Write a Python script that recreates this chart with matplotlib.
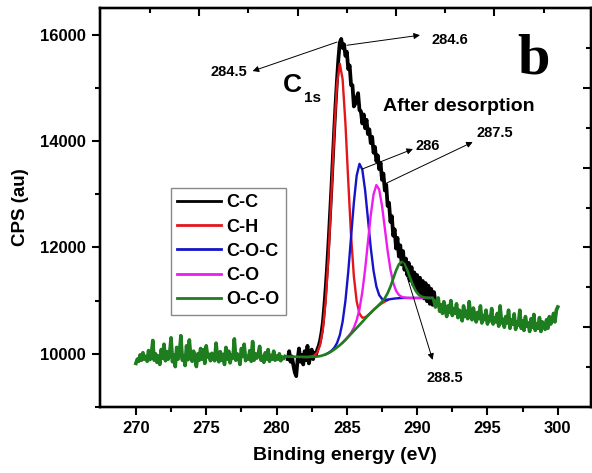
import numpy as np
import matplotlib
matplotlib.use('Agg')
import matplotlib.pyplot as plt

plt.rcParams['font.family'] = ['Liberation Sans', 'DejaVu Sans']
plt.rcParams['font.weight'] = 'bold'

# C-C raw spectrum, 280.8 .. 291.3 eV, step 0.1
cc_start = 280.8
cc_y = [9900, 10050, 9850, 9950, 9780, 9650, 9580, 9900, 10100, 9850,
        9980, 9800, 10050, 9880, 10150, 9820, 9950, 10080, 9900, 10020,
        9980, 10080, 10150, 10250, 10400, 10600, 10900, 11250, 11650, 12100,
        12600, 13100, 13650, 14200, 14700, 15150, 15550, 15850, 15920, 15750,
        15820, 15600, 15680, 15350, 15420, 15050, 15050, 14650, 14700, 14820,
        14900, 14580, 14560, 14330, 14500, 14240, 14400, 14130, 14220, 13960,
        14080, 13780, 13890, 13620, 13730, 13470, 13590, 13270, 13390, 13070,
        13180, 12780, 12840, 12480, 12590, 12220, 12340, 11980, 12180, 11830,
        12040, 11680, 11930, 11580, 11790, 11480, 11710, 11380, 11630, 11310,
        11530, 11230, 11480, 11180, 11430, 11110, 11370, 11040, 11330, 10990,
        11280, 10940, 11220, 10920, 11160, 10950]

# fitted components, step 0.2
ch_start = 281.9
ch_y = [9940, 9940, 9941, 9950, 9972, 10028, 10169, 10469, 11016, 11867,
        12976, 14148, 15071, 15452, 15161, 14330, 13249, 12224, 11456, 10985,
        10754, 10679, 10686, 10725, 10772, 10825, 10872, 10915, 10952, 10982,
        11008]

coc_start = 283.5
coc_y = [9990, 10018, 10056, 10111, 10201, 10351, 10604, 10998, 11542, 12193,
         12845, 13351, 13572, 13463, 13075, 12539, 11996, 11561, 11266, 11104,
         11033, 11013, 11019, 11028, 11036, 11042, 11046, 11049, 11050, 11050,
         11050, 11050, 11050, 11050, 11050, 11050, 11050, 11050, 11050]

co_start = 284.7
co_y = [10210, 10265, 10326, 10395, 10491, 10632, 10841, 11159, 11589, 12100,
        12605, 12999, 13172, 13089, 12785, 12364, 11937, 11584, 11334, 11186,
        11107, 11072, 11058, 11053, 11050, 11050, 11050, 11050, 11050, 11050,
        11050, 11050, 11050]

# O-C-O: noisy left part (step 0.1), fitted part (step 0.2), noisy right part (step 0.1)
oco_left_start = 270.0
oco_left_y = [9820, 9900, 9860, 9980, 9880, 10020, 9900, 9950, 9860, 10060,
              9890, 9970, 10250, 9880, 10000, 9840, 9960, 9800, 10080, 9920,
              10180, 9870, 10040, 9900, 9990, 10300, 9850, 9980, 9760, 10120,
              9900, 10020, 10340, 9880, 9950, 9780, 10150, 9890, 10260, 9920,
              9860, 10050, 9930, 9760, 10000, 9880, 10100, 9900, 10080, 9820,
              10150, 9940, 9990, 9870, 10010, 9910, 9870, 10200, 9930, 9850,
              10040, 9880, 9990, 9800, 10120, 9900, 10050, 9830, 9980, 9920,
              10280, 9880, 10000, 9940, 9800, 10100, 9950, 10180, 9870, 9950,
              9900, 10060, 9860, 10230, 9880, 10000, 9920, 9990, 10140, 9880,
              9950, 9840, 10020, 9900, 10080, 9860, 9970, 9900, 10050, 9880,
              9960, 9900, 10000, 9870, 9940, 9910, 9950]
oco_fit_start = 281.9
oco_fit_y = [9940, 9940, 9941, 9943, 9946, 9949, 9957, 9972, 9990, 10015,
             10045, 10080, 10120, 10162, 10210, 10262, 10318, 10372, 10430, 10488,
             10542, 10600, 10660, 10718, 10772, 10825, 10872, 10925, 10979, 11046,
             11140, 11263, 11412, 11565, 11682, 11729, 11686, 11573, 11427, 11288,
             11182, 11114, 11077, 11060, 11053, 11050, 11050]
oco_right_start = 291.2
oco_right_y = [11000, 10880, 10950, 11050, 10800, 10920, 10760, 10980, 10850, 10700,
               10900, 10780, 11000, 10720, 10850, 10760, 10940, 10680, 10820, 10750,
               10620, 10900, 10700, 10800, 10660, 10980, 10720, 10640, 10860, 10700,
               10600, 10780, 10660, 10900, 10580, 10720, 10640, 10820, 10560, 10700,
               10620, 10850, 10560, 10680, 10600, 10760, 10520, 10900, 10580, 10650,
               10500, 10700, 10580, 10820, 10480, 10640, 10560, 10750, 10460, 10600,
               10540, 10820, 10480, 10620, 10440, 10700, 10520, 10580, 10420, 10660,
               10500, 10740, 10440, 10560, 10480, 10680, 10420, 10600, 10520, 10460,
               10640, 10480, 10700, 10560, 10620, 10760, 10600, 10820, 10880]

labels = ['C-C', 'C-H', 'C-O-C', 'C-O', 'O-C-O']


def xs(start, vals, step):
    return start + step * np.arange(len(vals))


cc_x = xs(cc_start, cc_y, 0.1)
ch_x = xs(ch_start, ch_y, 0.2)
coc_x = xs(coc_start, coc_y, 0.2)
co_x = xs(co_start, co_y, 0.2)
oco_left_x = xs(oco_left_start, oco_left_y, 0.1)
oco_right_x = xs(oco_right_start, oco_right_y, 0.1)
oco_x = np.concatenate([oco_left_x, xs(oco_fit_start, oco_fit_y, 0.2), oco_right_x])
oco_y = np.concatenate([oco_left_y, oco_fit_y, oco_right_y])

green = '#1e7d1e'

fig = plt.figure(figsize=(5.92, 4.73), dpi=100)
ax = fig.add_axes([0.169, 0.1395, 0.829, 0.8435])

ax.plot(cc_x, cc_y, color='black', lw=2.7, label=labels[0])
ax.plot(ch_x, ch_y, color='#e3161c', lw=1.7, label=labels[1])
ax.plot(coc_x, coc_y, color='#1414c8', lw=1.7, label=labels[2])
ax.plot(co_x, co_y, color='#ee1cee', lw=1.7, label=labels[3])
ax.plot(oco_x, oco_y, color=green, lw=1.9, label=labels[4])
ax.plot(oco_left_x, oco_left_y, color=green, lw=2.6)
ax.plot(oco_right_x, oco_right_y, color=green, lw=2.6)

ax.set_xlim(267.45, 302.35)
ax.set_ylim(9000, 16500)
ax.set_xticks([270, 275, 280, 285, 290, 295, 300])
ax.set_xticks(np.arange(272.5, 302, 5), minor=True)
ax.set_yticks([10000, 12000, 14000, 16000])
ax.set_yticks([9000, 11000, 13000, 15000], minor=True)
ax.tick_params(which='major', direction='out', length=6, width=1.5, labelsize=12, pad=4)
ax.tick_params(which='minor', direction='out', length=3.5, width=1.5)
for s in ax.spines.values():
    s.set_linewidth(1.6)

ax.set_xlabel('Binding energy (eV)', fontsize=14, fontweight='bold', labelpad=8)
ax.set_ylabel('CPS (au)', fontsize=13.5, fontweight='bold', labelpad=8)

# right and top ticks (inward, unlabeled)
axr = ax.twinx()
axr.set_ylim(9000, 16500)
axr.set_yticks([10500, 12000, 13500, 15000])
axr.set_yticks([9750, 11250, 12750, 14250, 15750], minor=True)
axr.tick_params(which='both', direction='in', width=1.5, labelright=False)
axr.tick_params(which='major', length=6)
axr.tick_params(which='minor', length=3.5)
axt = ax.twiny()
axt.set_xlim(267.45, 302.35)
axt.set_xticks([274.5, 281.5, 288.5, 295.5])
axt.set_xticks([271, 278, 285, 292, 299], minor=True)
axt.tick_params(which='both', direction='in', width=1.5, labeltop=False)
axt.tick_params(which='major', length=6)
axt.tick_params(which='minor', length=3.5)
for a in (axr, axt):
    for s in a.spines.values():
        s.set_linewidth(1.6)

leg = ax.legend(loc='upper left', bbox_to_anchor=(0.1446, 0.549), borderaxespad=0,
                prop={'weight': 'bold', 'size': 13}, fancybox=False,
                edgecolor='#888888', framealpha=1, handlelength=2.4,
                handletextpad=0.3, labelspacing=0.4, borderpad=0.35)
leg.get_frame().set_linewidth(1.0)
for h in leg.get_lines():
    h.set_linewidth(2.0)

arrow = dict(arrowstyle='-|>', lw=0.7, color='black', mutation_scale=9,
             shrinkA=0, shrinkB=0)
ax.annotate('', xy=(278.3, 15315), xytext=(284.3, 15860), arrowprops=arrow)
ax.text(277.9, 15300, '284.5', fontsize=10.5, ha='right', va='center')
ax.annotate('', xy=(290.2, 15990), xytext=(285.0, 15800), arrowprops=arrow)
ax.text(291.0, 15900, '284.6', fontsize=10.5, ha='left', va='center')
ax.annotate('', xy=(289.7, 13850), xytext=(286.1, 13474), arrowprops=arrow)
ax.text(289.9, 13906, '286', fontsize=10.5, ha='left', va='center')
ax.annotate('', xy=(293.95, 13981), xytext=(287.84, 13211), arrowprops=arrow)
ax.text(294.2, 14150, '287.5', fontsize=10.5, ha='left', va='center')
ax.annotate('', xy=(291.1, 9887), xytext=(288.98, 11709), arrowprops=arrow)
ax.text(291.96, 9550, '288.5', fontsize=10.5, ha='center', va='center')

ax.text(280.45, 14920, 'C', fontsize=19, ha='left', va='baseline')
ax.text(281.95, 14730, '1s', fontsize=11, ha='left', va='baseline')
ax.text(287.56, 14560, 'After desorption', fontsize=14, ha='left', va='baseline')
ax.text(297.1, 15277, 'b', fontsize=42, ha='left', va='baseline',
        family='Liberation Serif', fontweight='bold')

plt.savefig('out.png', dpi=100)
